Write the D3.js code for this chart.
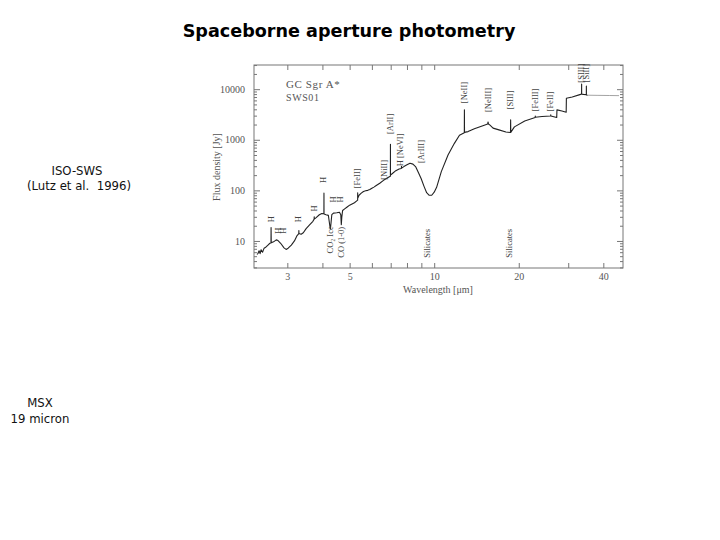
<!DOCTYPE html>
<html><head><meta charset="utf-8">
<script src="https://cdn.jsdelivr.net/npm/d3@7"></script>
<style>body{margin:0;background:#fff}svg{display:block}</style>
</head><body>
<svg id="c" width="720" height="540"></svg>
<script>
// ---- data ----
const specWl = [2.34,2.36,2.38,2.40,2.42,2.45,2.48,2.52,2.56,2.60,2.624,2.626,2.63,2.68,2.74,2.78,2.84,2.92,2.97,3.02,3.10,3.18,3.25,3.296,3.298,3.30,3.36,3.42,3.50,3.60,3.70,3.738,3.740,3.742,3.80,3.90,3.98,4.049,4.051,4.053,4.12,4.20,4.25,4.27,4.29,4.32,4.38,4.50,4.60,4.65,4.67,4.69,4.72,4.80,4.90,5.00,5.10,5.20,5.30,5.339,5.341,5.343,5.40,5.50,5.60,5.70,5.80,5.90,6.00,6.10,6.20,6.40,6.60,6.80,6.95,6.984,6.986,6.988,7.10,7.30,7.50,7.64,7.65,7.66,7.80,8.00,8.20,8.40,8.60,8.80,8.99,9.20,9.40,9.60,9.80,10.0,10.2,10.6,11.2,11.8,12.3,12.80,12.81,12.82,13.2,13.9,14.9,15.5,15.55,15.6,15.8,16.2,17.0,18.0,18.69,18.71,18.73,19.3,21.0,22.88,22.90,22.92,24.2,25.98,26.0,26.02,27.3,27.35,28.5,29.5,29.55,31.0,33.0,33.47,33.48,33.49,34.0,34.80,34.81,34.82,35.2];
const specFlux = [5.4,5.7,6.4,5.6,6.7,6.0,7.2,7.6,8.3,9.0,9.1,18.4,9.2,9.6,10.5,10.2,9.0,7.3,6.8,7.2,8.3,10.0,12.8,14.0,16.0,14.0,13.6,14.5,17.5,20.7,24.5,27,30,27,29,33,35,34.5,88,34,33,32,20,17.3,22,33,35.5,36,37,33,21,30,40,43,47,51,54,57,62,64,90,70,80,88,95,98,100,104,110,116,123,138,158,175,188,190,817,200,215,245,265,270,300,275,295,320,343,330,290,220,170,120,90,80,80,92,115,235,500,850,1230,1380,3900,1400,1450,1650,1900,2050,2250,2050,1950,1700,1570,1420,1390,2470,1400,1800,2360,2750,2950,2780,2880,2960,3100,2960,2750,3900,3700,3500,6600,7000,7800,8000,12600,8000,7900,7800,11500,7700,7600];
const tailWl = [35.2,38,42,45.5];
const tailFlux = [7600,7550,7500,7450];

const xTicks = [3,4,5,6,7,8,9,10,20,30,40];
const xTickLabels = ["3","","5","","","","","10","20","","40"];
const yTicks = [10,100,1000,10000];
const yTickLabels = ["10","100","1000","10000"];

const labelText = ["H","H","H","H","H","H","H","H","CO\u2082 Ice","CO (1-0)","[FeII]","[NiII]","[ArII]","H [NeVI]","[ArIII]","Silicates","[NeII]","[NeIII]","[SIII]","Silicates","[FeIII]","[FeII]","[SIII]","[SiII]"];
const labelWl =   [2.63,2.79,2.90,3.30,3.74,4.05,4.37,4.65,4.27,4.67,5.34,6.64,6.98,7.60,8.99,9.5,12.81,15.55,18.71,18.6,22.9,26.0,33.48,34.81];
const labelFlux = [27,16,16,27,44,161,66,66,10.5,9.4,173,254,2060,630,585,9,8570,6130,6130,9,6130,5700,20700,20700];

// ---- layout ----
const svg = d3.select("#c");
const L=254, R=623, T=65, B=268;
const x = d3.scaleLog().domain([2.283,47.0]).range([L,R]);
const y = d3.scaleLog().domain([2.92,30060]).range([B,T]);
const gray="#555", serif="'Liberation Serif','DejaVu Serif',serif";

// slide texts
svg.append("text").attr("x",349).attr("y",37).attr("text-anchor","middle")
  .attr("font-family","'DejaVu Sans',sans-serif").attr("font-weight","bold").attr("font-size",17.6)
  .attr("fill","#000").text("Spaceborne aperture photometry");
const side = [["ISO-SWS",77,175],["(Lutz et al.  1996)",79,190],["MSX",40,407],["19 micron",40,423]];
side.forEach(s=>svg.append("text").attr("x",s[1]).attr("y",s[2]).attr("text-anchor","middle")
  .attr("font-family","'DejaVu Sans Condensed','DejaVu Sans',sans-serif").attr("font-size",13)
  .attr("fill","#111").attr("xml:space","preserve").text(s[0]));

// frame
svg.append("rect").attr("x",L).attr("y",T).attr("width",R-L).attr("height",B-T)
  .attr("fill","none").attr("stroke","#777").attr("stroke-width",1);

// axes (inward ticks)
const gx = svg.append("g").attr("transform",`translate(0,${B})`)
  .call(d3.axisBottom(x).tickValues(xTicks).tickSize(-5).tickPadding(5).tickFormat((d,i)=>xTickLabels[i]));
const gxt = svg.append("g").attr("transform",`translate(0,${T})`)
  .call(d3.axisTop(x).tickValues(xTicks).tickSize(-5).tickFormat(""));
const yMinor=[]; [1,10,100,1000,10000].forEach(p=>{for(let k=2;k<=9;k++){const v=p*k; if(v>2.92&&v<30060) yMinor.push(v);}});
const gy = svg.append("g").attr("transform",`translate(${L},0)`)
  .call(d3.axisLeft(y).tickValues(yTicks).tickSize(-6).tickPadding(9).tickFormat((d,i)=>yTickLabels[i]));
const gyr = svg.append("g").attr("transform",`translate(${R},0)`)
  .call(d3.axisRight(y).tickValues(yTicks).tickSize(-6).tickFormat(""));
const gym = svg.append("g").attr("transform",`translate(${L},0)`)
  .call(d3.axisLeft(y).tickValues(yMinor).tickSize(-3).tickFormat(""));
const gymr = svg.append("g").attr("transform",`translate(${R},0)`)
  .call(d3.axisRight(y).tickValues(yMinor).tickSize(-3).tickFormat(""));
[gx,gxt,gy,gyr,gym,gymr].forEach(g=>{
  g.select(".domain").remove();
  g.selectAll("line").attr("stroke","#777");
  g.selectAll("text").attr("font-family",serif).attr("font-size",10).attr("fill",gray);
});

// axis titles
svg.append("text").attr("x",438).attr("y",293).attr("text-anchor","middle")
  .attr("font-family",serif).attr("font-size",10).attr("fill",gray).text("Wavelength [\u03bcm]");
svg.append("text").attr("transform","translate(220,167) rotate(-90)").attr("text-anchor","middle")
  .attr("font-family",serif).attr("font-size",10).attr("fill",gray).text("Flux density [Jy]");

// in-plot title
svg.append("text").attr("x",286).attr("y",88).attr("font-family",serif).attr("font-size",11)
  .attr("fill",gray).attr("letter-spacing",0.6).text("GC Sgr A*");
svg.append("text").attr("x",286).attr("y",101).attr("font-family",serif).attr("font-size",10)
  .attr("fill",gray).attr("letter-spacing",0.6).text("SWS01");

// spectrum
const line = d3.line().x(d=>x(d[0])).y(d=>y(d[1]));
svg.append("path").datum(specWl.map((w,i)=>[w,specFlux[i]]))
  .attr("d",line).attr("fill","none").attr("stroke","#222").attr("stroke-width",1.1).attr("stroke-linejoin","round");
svg.append("path").datum(tailWl.map((w,i)=>[w,tailFlux[i]]))
  .attr("d",line).attr("fill","none").attr("stroke","#999").attr("stroke-width",0.9);

// line labels (rotated)
labelText.forEach((t,i)=>{
  svg.append("text").attr("transform",`translate(${x(labelWl[i])+2.5},${y(labelFlux[i])}) rotate(-90)`)
    .attr("text-anchor","middle").attr("font-family",serif).attr("font-size",8.5)
    .attr("fill","#444").text(t);
});
</script>
</body></html>
